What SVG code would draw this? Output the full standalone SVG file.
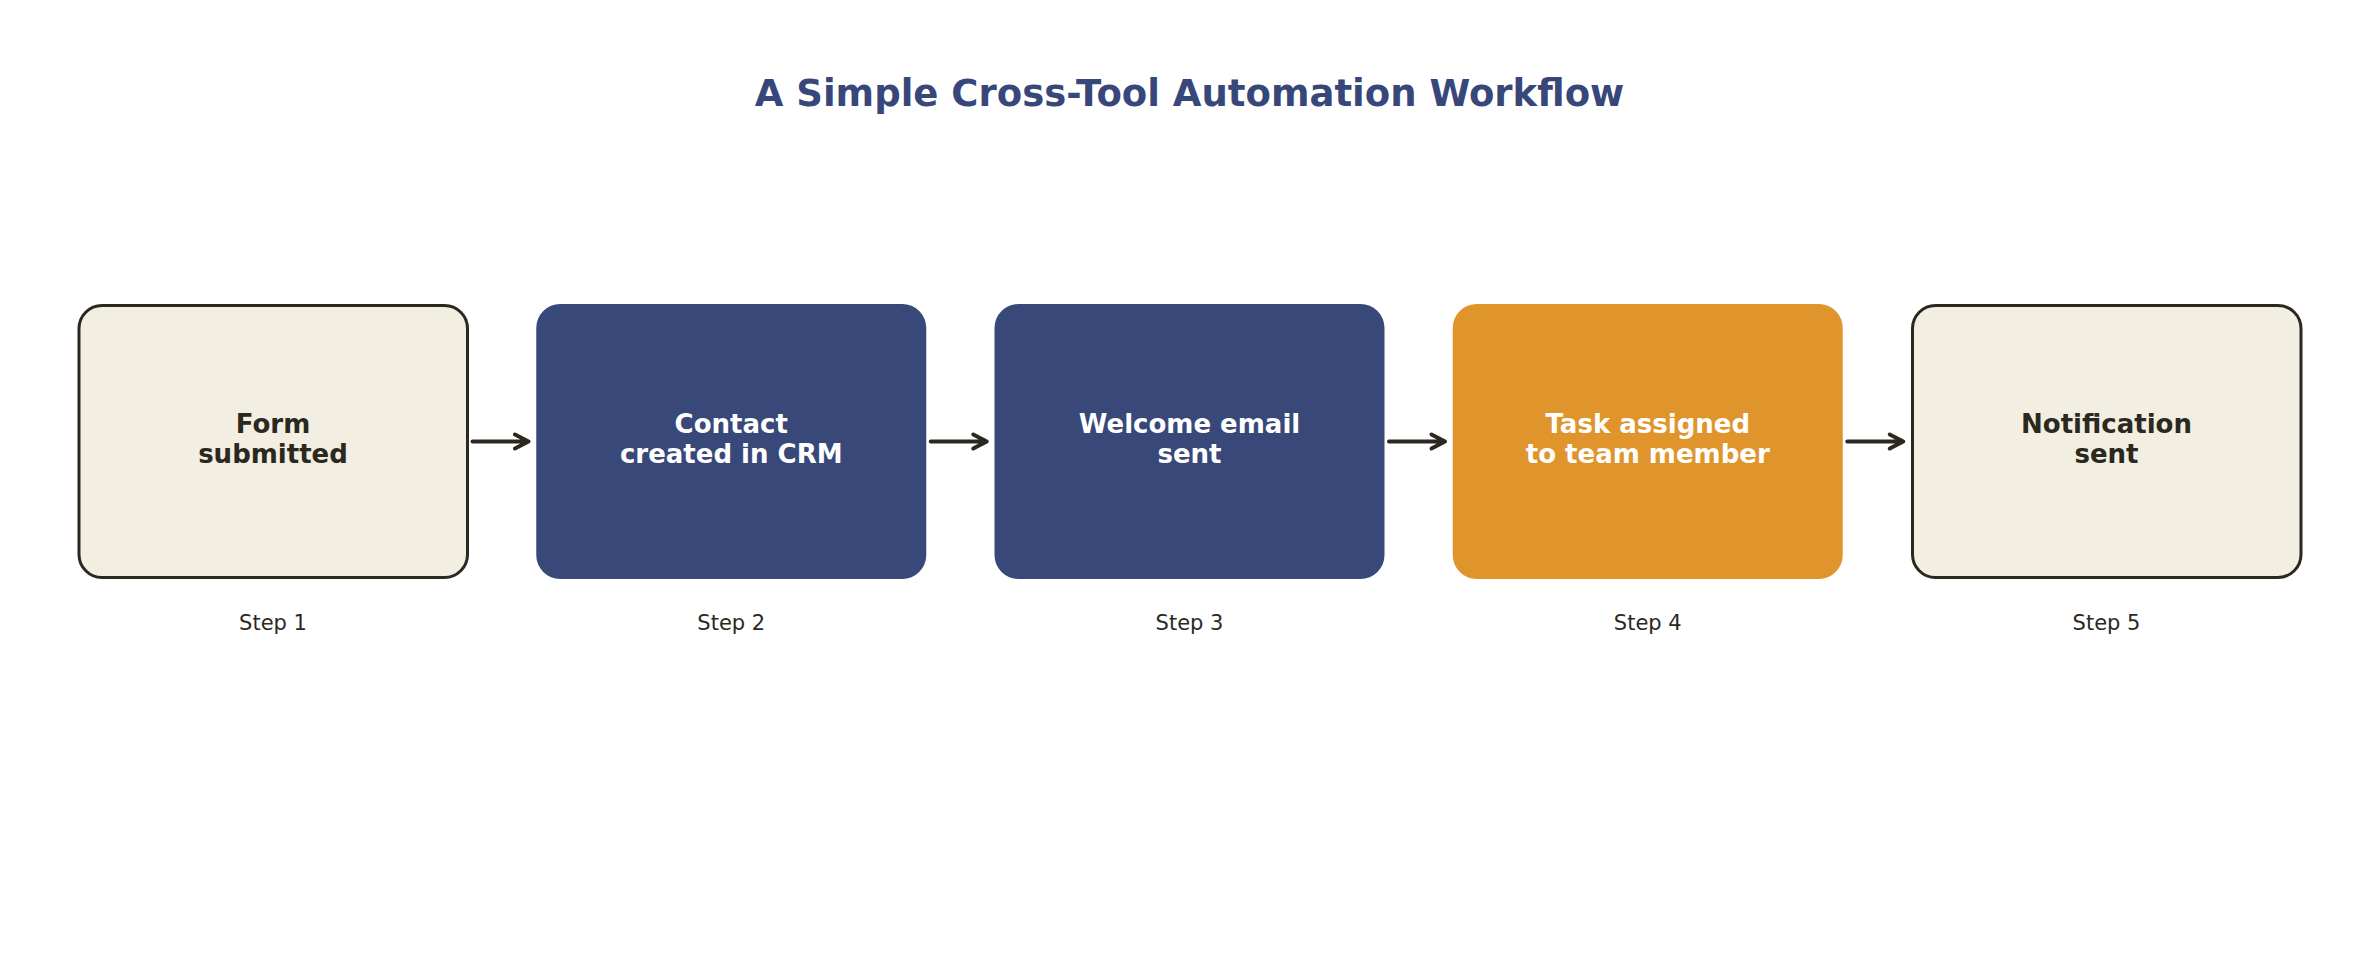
<svg xmlns="http://www.w3.org/2000/svg" width="2379" height="980" viewBox="0 0 2379 980">
  <style>
    .title { font-family: "DejaVu Sans", "Liberation Sans", sans-serif; font-weight: bold; font-size: 37px; fill: #37477a; text-anchor: middle; }
    .lbl { font-family: "DejaVu Sans", "Liberation Sans", sans-serif; font-weight: bold; font-size: 26px; text-anchor: middle; }
    .step { font-family: "DejaVu Sans", "Liberation Sans", sans-serif; font-size: 21px; fill: #2b2820; text-anchor: middle; }
    .light { fill: #f2eee2; stroke: #2b2820; stroke-width: 3; }
    .navy { fill: #384878; }
    .orange { fill: #df952b; }
    .dark { fill: #2b2820; }
    .white { fill: #ffffff; }
    .conn { fill: none; stroke: #2b2820; stroke-width: 4; stroke-linecap: round; stroke-linejoin: round; }
  </style>
  <rect width="2379" height="980" fill="#ffffff"/>
  <text class="title" x="1189.5" y="106">A Simple Cross-Tool Automation Workflow</text>

  <g id="step1">
    <rect class="light" x="79" y="305.5" width="388.5" height="272" rx="23"/>
    <text class="lbl dark" x="273" y="433">Form</text>
    <text class="lbl dark" x="273" y="463">submitted</text>
    <text class="step" x="273" y="629.5">Step 1</text>
  </g>
  <g id="step2">
    <rect class="navy" x="536.25" y="304" width="390" height="275" rx="24"/>
    <text class="lbl white" x="731.25" y="433">Contact</text>
    <text class="lbl white" x="731.25" y="463">created in CRM</text>
    <text class="step" x="731.25" y="629.5">Step 2</text>
  </g>
  <g id="step3">
    <rect class="navy" x="994.5" y="304" width="390" height="275" rx="24"/>
    <text class="lbl white" x="1189.5" y="433">Welcome email</text>
    <text class="lbl white" x="1189.5" y="463">sent</text>
    <text class="step" x="1189.5" y="629.5">Step 3</text>
  </g>
  <g id="step4">
    <rect class="orange" x="1452.75" y="304" width="390" height="275" rx="24"/>
    <text class="lbl white" x="1647.75" y="433">Task assigned</text>
    <text class="lbl white" x="1647.75" y="463">to team member</text>
    <text class="step" x="1647.75" y="629.5">Step 4</text>
  </g>
  <g id="step5">
    <rect class="light" x="1912.5" y="305.5" width="388.5" height="272" rx="23"/>
    <text class="lbl dark" x="2106.5" y="433">Notification</text>
    <text class="lbl dark" x="2106.5" y="463">sent</text>
    <text class="step" x="2106.5" y="629.5">Step 5</text>
  </g>

  <g id="connectors">
    <path class="conn" d="M472.5,441.5 H528.5 M515,434.5 L528.5,441.5 L515,448.5"/>
    <path class="conn" d="M930.75,441.5 H986.75 M973.25,434.5 L986.75,441.5 L973.25,448.5"/>
    <path class="conn" d="M1389,441.5 H1445 M1431.5,434.5 L1445,441.5 L1431.5,448.5"/>
    <path class="conn" d="M1847.25,441.5 H1903.25 M1889.75,434.5 L1903.25,441.5 L1889.75,448.5"/>
  </g>
</svg>
